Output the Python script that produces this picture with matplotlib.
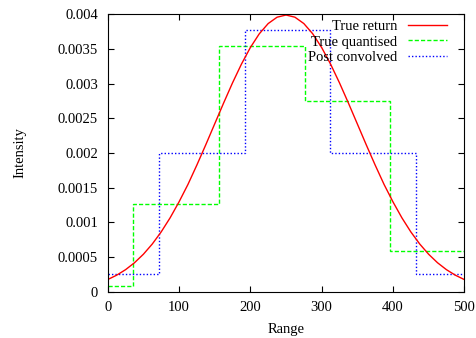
import numpy as np
import matplotlib
matplotlib.use("Agg")
import matplotlib.pyplot as plt
from matplotlib.ticker import FuncFormatter

# true return curve, values every 12.5 range units
true_x = [i * 12.5 for i in range(41)]
true_half = [0.0001753, 0.0002377, 0.0003174, 0.0004172, 0.0005399, 0.0006878,
             0.0008627, 0.0010653, 0.0012951, 0.0015466, 0.0018263, 0.0021186,
             0.0024197, 0.0027204, 0.0030113, 0.0032815, 0.0035205, 0.0037184,
             0.0038665, 0.0039583, 0.0039894]
true_y = true_half + true_half[-2::-1]

# quantised return (step edges and levels)
quant_edges = [0, 36, 156, 276, 396, 500]
quant_vals = [0.00008, 0.00127, 0.00355, 0.00275, 0.00058]

# post convolved (step edges and levels)
conv_edges = [0, 72, 192, 312, 432, 500]
conv_vals = [0.00025, 0.00200, 0.00377, 0.00200, 0.00025]

plt.rcParams["font.family"] = ["Liberation Serif", "DejaVu Serif"]
plt.rcParams["font.size"] = 10.5

fig = plt.figure(figsize=(4.76, 3.38), dpi=100)
ax = fig.add_axes([0.2263, 0.137, 0.7491, 0.8207])

ax.plot(true_x, true_y, color="#ff0000", lw=1.0, label="True return")
ax.stairs(quant_vals, quant_edges, color="#00ff00", lw=1.0, ls=(0, (3, 1.5)),
          baseline=None, label="True quantised")
ax.stairs(conv_vals, conv_edges, color="#0000ff", lw=1.0, ls=(0, (1, 1.5)),
          baseline=None, label="Post convolved")

ax.set_xlim(0, 500)
ax.set_ylim(0, 0.004)
ax.set_xticks(range(0, 501, 100))
ax.set_yticks(np.arange(0, 0.00401, 0.0005))
ax.yaxis.set_major_formatter(FuncFormatter(lambda v, p: "%g" % round(v, 6)))
ax.tick_params(direction="in", length=4, width=0.8, top=True, right=True, pad=7)

ax.set_xlabel("Range", va="center")
ax.xaxis.set_label_coords(0.5, -0.1345)
ax.set_ylabel("Intensity", va="center")
ax.yaxis.set_label_coords(-0.246, 0.5)

leg = ax.legend(loc="upper right", bbox_to_anchor=(0.9515, 0.979), frameon=False,
                markerfirst=False, handlelength=2.7, handletextpad=0.7,
                labelspacing=0.14, borderpad=0, borderaxespad=0)
for t in leg.get_texts():
    t.set_ha("right")
leg._legend_box.align = "right"

fig.savefig("out.png", dpi=100)
